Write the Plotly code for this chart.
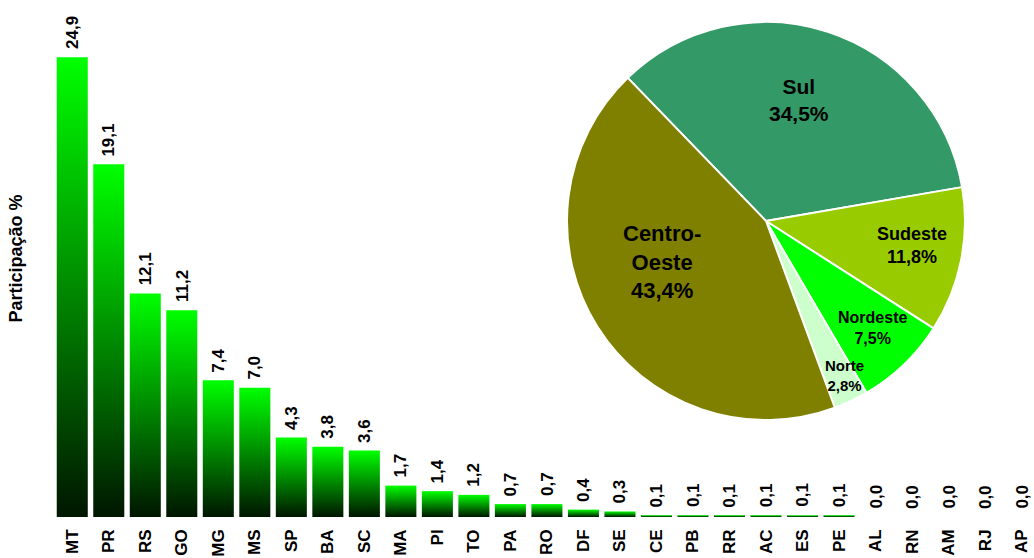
import math
import plotly.graph_objects as go

# Participação por estado (%)
estados = ["MT", "PR", "RS", "GO", "MG", "MS", "SP", "BA", "SC", "MA", "PI", "TO", "PA", "RO",
           "DF", "SE", "CE", "PB", "RR", "AC", "ES", "PE", "AL", "RN", "AM", "RJ", "AP"]
participacao = [24.9, 19.1, 12.1, 11.2, 7.4, 7.0, 4.3, 3.8, 3.6, 1.7, 1.4, 1.2, 0.7, 0.7,
                0.4, 0.3, 0.1, 0.1, 0.1, 0.1, 0.1, 0.1, 0.0, 0.0, 0.0, 0.0, 0.0]

# Participação por região (%)
regioes = ["Sul", "Sudeste", "Nordeste", "Norte", "Centro-Oeste"]
regioes_txt = ["Sul", "Sudeste", "Nordeste", "Norte", "Centro-<br>Oeste"]
regioes_pct = [34.5, 11.8, 7.5, 2.8, 43.4]
regioes_cor = ["#339966", "#99CC00", "#00FF00", "#CCFFCC", "#808000"]

# estilo dos rótulos da pizza: tamanho, raio relativo, desvio angular (graus)
rot_tam = [21, 18, 16, 15, 22]
rot_raio = [0.63, 0.745, 0.76, 0.87, 0.56]
rot_desvio = [-3, -2, -1, -1.5, 10.5]

FONT = "Liberation Sans"
ML, MR, MT_, MB = 54, 0, 0, 41
W, H = 1034, 558
PW, PH = W - ML - MR, H - MT_ - MB

fig = go.Figure()

# barras com degradê vertical (verde -> preto)
half = 0.425
for i, v in enumerate(participacao):
    if v <= 0:
        continue
    fig.add_trace(go.Scatter(
        x=[i - half, i - half, i + half, i + half, i - half],
        y=[0, v, v, 0, 0],
        mode="lines", fill="toself",
        line=dict(width=0, color="rgba(0,0,0,0)"),
        fillgradient=dict(type="vertical",
                          colorscale=[[0, "#001600"], [1, "#00FF00"]]),
        hoverinfo="skip", showlegend=False,
    ))

# rótulos de valores
for i, v in enumerate(participacao):
    fig.add_annotation(
        x=i, y=v, xref="x", yref="y",
        text=f"{v:.1f}".replace(".", ","),
        textangle=-90, showarrow=False,
        xanchor="center", yanchor="bottom", yshift=6,
        font=dict(family=FONT, size=17, color="black", weight="bold"),
    )

# pizza por região
dom_x = [(567 - ML) / PW, (965 - ML) / PW]
dom_y = [1 - (420 - MT_) / PH, 1 - (22 - MT_) / PH]
rotacao = -44
fig.add_trace(go.Pie(
    labels=regioes, values=regioes_pct,
    sort=False, direction="clockwise", rotation=rotacao,
    marker=dict(colors=regioes_cor, line=dict(color="white", width=2)),
    textinfo="none",
    domain=dict(x=dom_x, y=dom_y),
    showlegend=False, hoverinfo="label+percent",
))

# rótulos da pizza, posicionados pela geometria das fatias
cx_px = ML + (dom_x[0] + dom_x[1]) / 2 * PW
cy_px = MT_ + (1 - (dom_y[0] + dom_y[1]) / 2) * PH
raio = min((dom_x[1] - dom_x[0]) * PW, (dom_y[1] - dom_y[0]) * PH) / 2
total = sum(regioes_pct)
acum = 0
for k, p in enumerate(regioes_pct):
    meio = rotacao + (acum + p / 2) / total * 360 + rot_desvio[k]
    acum += p
    ang = math.radians(meio)
    px = cx_px + rot_raio[k] * raio * math.sin(ang)
    py = cy_px - rot_raio[k] * raio * math.cos(ang)
    fig.add_annotation(
        x=(px - ML) / PW, y=1 - (py - MT_) / PH, xref="paper", yref="paper",
        text=f"{regioes_txt[k]}<br>{p:.1f}%".replace(".", ","), showarrow=False,
        xanchor="center", yanchor="middle",
        font=dict(family=FONT, size=rot_tam[k], color="black", weight="bold"),
    )

fig.update_layout(
    width=W, height=H,
    paper_bgcolor="white", plot_bgcolor="white",
    separators=",.",
    margin=dict(l=ML, r=MR, t=MT_, b=MB, autoexpand=False),
    xaxis=dict(
        range=[-0.5, 26.34], showgrid=False, zeroline=False, showline=False,
        tickmode="array", tickvals=list(range(len(estados))), ticktext=estados,
        tickangle=-90, ticks="", ticklabelstandoff=8,
        tickfont=dict(family=FONT, size=17, color="black", weight="bold"),
        automargin=False,
    ),
    yaxis=dict(
        range=[0, 28], showgrid=False, zeroline=False, showline=False,
        showticklabels=False, ticks="", automargin=False,
        title=dict(text="Participação %", standoff=25,
                   font=dict(family=FONT, size=18, color="black", weight="bold")),
    ),
)

fig.write_html("out.html", config={"displayModeBar": False},
               post_script="document.body.style.margin='0';")
